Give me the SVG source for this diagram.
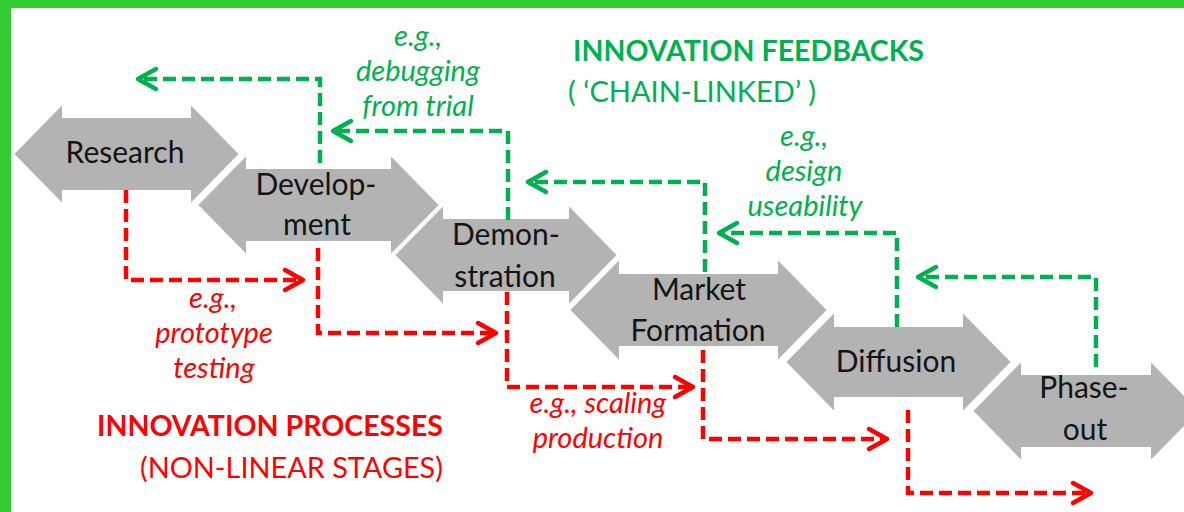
<svg xmlns="http://www.w3.org/2000/svg" width="1184" height="512" viewBox="0 0 1184 512">
<style>
.stage{fill:#b3b3b3;stroke:#ffffff;stroke-width:2;stroke-linejoin:miter}
.lbl{font-family:Lato,"Liberation Sans",sans-serif;font-size:30px;fill:#141414;text-anchor:middle}
.g{fill:none;stroke:#00b050;stroke-width:4.5;stroke-dasharray:13 6}
.r{fill:none;stroke:#ff0000;stroke-width:4.5;stroke-dasharray:13 6}
.gt{font-family:Lato,"Liberation Sans",sans-serif;font-size:29px;font-style:italic;fill:#00b050;text-anchor:middle}
.rt{font-family:Lato,"Liberation Sans",sans-serif;font-size:29px;font-style:italic;fill:#ff0000;text-anchor:middle}
.title{font-family:Lato,"Liberation Sans",sans-serif;font-size:29px}
</style>
<defs>
<marker id="ag" markerUnits="userSpaceOnUse" markerWidth="30" markerHeight="30" viewBox="-24 -15 30 30" refX="0" refY="0" orient="auto">
<path d="M-18,-10 L0,0 L-18,10" fill="none" stroke="#00b050" stroke-width="4.5" stroke-linecap="round" stroke-linejoin="round"/>
</marker>
<marker id="ar" markerUnits="userSpaceOnUse" markerWidth="30" markerHeight="30" viewBox="-24 -15 30 30" refX="0" refY="0" orient="auto">
<path d="M-18,-10 L0,0 L-18,10" fill="none" stroke="#ff0000" stroke-width="4.5" stroke-linecap="round" stroke-linejoin="round"/>
</marker>
</defs>
<rect x="0" y="0" width="1184" height="512" fill="#ffffff"/>
<rect x="0" y="0" width="1184" height="8" fill="#33cc33"/>
<rect x="0" y="0" width="11" height="512" fill="#33cc33"/>

<g id="research">
<path class="stage" d="M13,154 L63,103 L63,117 L190,117 L190,103 L240,154 L190,205 L190,191 L63,191 L63,205 Z"/>
<text class="lbl" x="125" y="163">Research</text>
</g>
<g id="development">
<path class="stage" d="M197,205 L247,154 L247,168 L390,168 L390,154 L440,205 L390,256 L390,242 L247,242 L247,256 Z"/>
<text class="lbl" x="316" y="195">Develop-</text>
<text class="lbl" x="317" y="235">ment</text>
</g>
<g id="demonstration">
<path class="stage" d="M394,255 L444,204 L444,218 L568,218 L568,204 L618,255 L568,306 L568,292 L444,292 L444,306 Z"/>
<text class="lbl" x="506" y="245">Demon-</text>
<text class="lbl" x="505" y="287">stration</text>
</g>
<g id="market-formation">
<path class="stage" d="M569,310 L620,258 L620,273 L777,273 L777,258 L828,310 L777,362 L777,347 L620,347 L620,362 Z"/>
<text class="lbl" x="699" y="300">Market</text>
<text class="lbl" x="698" y="341">Formation</text>
</g>
<g id="diffusion">
<path class="stage" d="M785,362 L835,311 L835,326 L962,326 L962,311 L1012,362 L962,413 L962,398 L835,398 L835,413 Z"/>
<text class="lbl" x="896" y="372">Diffusion</text>
</g>
<g id="phase-out">
<path class="stage" d="M972,411 L1022,360 L1022,374 L1150,374 L1150,360 L1200,411 L1150,462 L1150,448 L1022,448 L1022,462 Z"/>
<text class="lbl" x="1084" y="398">Phase-</text>
<text class="lbl" x="1085" y="440">out</text>
</g>

<g id="connectors">
<path class="g" d="M320,163 V79 H138" marker-end="url(#ag)"/>
<path class="g" d="M508,220 V131 H333" marker-end="url(#ag)"/>
<path class="g" d="M705,272 V182 H528" marker-end="url(#ag)"/>
<path class="g" d="M897,327 V233 H719" marker-end="url(#ag)"/>
<path class="g" d="M1096,367 V277 H918" marker-end="url(#ag)"/>
<path class="r" d="M126,190 V280 H303" marker-end="url(#ar)"/>
<path class="r" d="M318,248 V333 H496" marker-end="url(#ar)"/>
<path class="r" d="M507,292 V387 H693" marker-end="url(#ar)"/>
<path class="r" d="M703,350 V439 H887" marker-end="url(#ar)"/>
<path class="r" d="M908,410 V493 H1091" marker-end="url(#ar)"/>
</g>

<g id="feedback-labels">
<text class="gt" x="418" y="46">e.g.,</text>
<text class="gt" x="418" y="81">debugging</text>
<text class="gt" x="418" y="116">from trial</text>
<text class="gt" x="804" y="146">e.g.,</text>
<text class="gt" x="804" y="181">design</text>
<text class="gt" x="805" y="216">useability</text>
</g>
<g id="process-labels">
<text class="rt" x="213" y="308">e.g.,</text>
<text class="rt" x="214" y="343">prototype</text>
<text class="rt" x="214" y="378">testing</text>
<text class="rt" x="598" y="413">e.g., scaling</text>
<text class="rt" x="598" y="448">production</text>
</g>
<g id="titles">
<text class="title" x="573" y="61" fill="#00b050" font-weight="bold" textLength="351" lengthAdjust="spacingAndGlyphs">INNOVATION FEEDBACKS</text>
<text class="title" x="568" y="102" fill="#00b050" textLength="248" lengthAdjust="spacingAndGlyphs">( ‘CHAIN-LINKED’ )</text>
<text class="title" x="97" y="436" fill="#ff0000" font-weight="bold" textLength="346" lengthAdjust="spacingAndGlyphs">INNOVATION PROCESSES</text>
<text class="title" x="140" y="478" fill="#ff0000" textLength="303" lengthAdjust="spacingAndGlyphs">(NON-LINEAR STAGES)</text>
</g>
</svg>
